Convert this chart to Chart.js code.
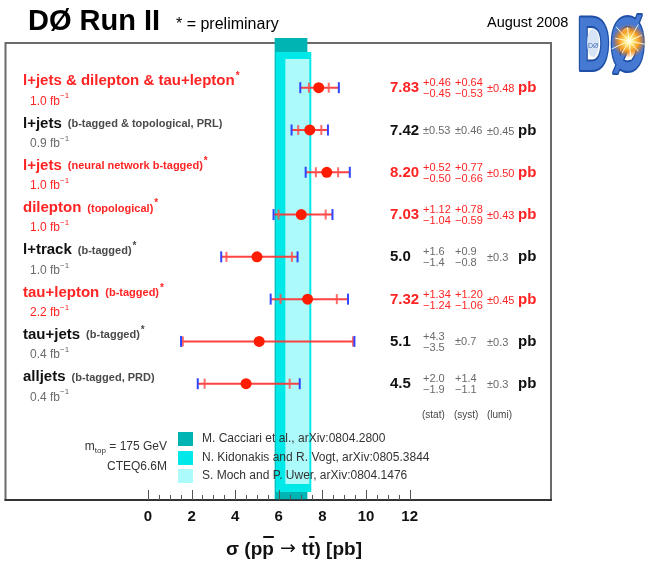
<!DOCTYPE html>
<html>
<head>
<meta charset="utf-8">
<script src="https://cdn.jsdelivr.net/npm/chart.js@4.4.1/dist/chart.umd.min.js"></script>
<style>
  html, body { margin: 0; padding: 0; background: #fff; }
  #wrap { width: 652px; height: 562px; }
</style>
</head>
<body>
<div id="wrap"><canvas id="xsec" width="652" height="562"></canvas></div>
<script>
// Top-pair cross section measurements, one row per channel
const rowTitles = ['l+jets & dilepton & tau+lepton', 'l+jets', 'l+jets', 'dilepton', 'l+track', 'tau+lepton', 'tau+jets', 'alljets'];
const rowNotes = ['', '(b-tagged & topological, PRL)', '(neural network b-tagged)', '(topological)', '(b-tagged)', '(b-tagged)', '(b-tagged)', '(b-tagged, PRD)'];
const rowPreliminary = [true, false, true, true, true, true, true, false];
const rowLumi = ['1.0', '0.9', '1.0', '1.0', '1.0', '2.2', '0.4', '0.4'];
const rowHighlight = [true, false, true, true, false, true, false, false];

const xsec = [7.83, 7.42, 8.20, 7.03, 5.0, 7.32, 5.1, 4.5];
const xsecDecimals = [2, 2, 2, 2, 1, 2, 1, 1];
const statUp = [0.46, 0.53, 0.52, 1.12, 1.6, 1.34, 4.3, 2.0];
const statDown = [0.45, 0.53, 0.50, 1.04, 1.4, 1.24, 3.5, 1.9];
const systUp = [0.64, 0.46, 0.77, 0.78, 0.9, 1.20, 0.7, 1.4];
const systDown = [0.53, 0.46, 0.66, 0.59, 0.8, 1.06, 0.7, 1.1];
const lumiErr = [0.48, 0.45, 0.50, 0.43, 0.3, 0.45, 0.3, 0.3];

// Theory predictions (m_top = 175 GeV, CTEQ6.6M)
const theoryNames = ['M. Cacciari et al., arXiv:0804.2800', 'N. Kidonakis and R. Vogt, arXiv:0805.3844', 'S. Moch and P. Uwer, arXiv:0804.1476'];
const theoryLow = [5.81, 5.86, 6.30];
const theoryHigh = [7.31, 7.49, 7.40];
const theoryColors = ['rgb(0,180,180)', 'rgb(0,232,232)', 'rgb(172,250,250)'];

const tickValues = [0, 2, 4, 6, 8, 10, 12];

const FONT = '"Liberation Sans", Arial, Helvetica, sans-serif';
const RED = 'rgb(255,36,36)';
const MINUS = '\u2212';

// total uncertainty: stat, syst and lumi added in quadrature
const totalUp = xsec.map((_, i) => Math.hypot(statUp[i], systUp[i], lumiErr[i]));
const totalDown = xsec.map((_, i) => Math.hypot(statDown[i], systDown[i], lumiErr[i]));

function rich(ctx, x, y, parts) {
  for (const p of parts) {
    ctx.font = p.font;
    ctx.fillStyle = p.color;
    ctx.fillText(p.text, x, y + (p.dy || 0));
    x += ctx.measureText(p.text).width + (p.gap || 0);
  }
  return x;
}

function textWidth(ctx, parts) {
  let w = 0;
  for (const p of parts) { ctx.font = p.font; w += ctx.measureText(p.text).width + (p.gap || 0); }
  return w;
}

function drawLogo(ctx) {
  ctx.save();
  ctx.translate(577, 70);
  ctx.scale(0.6, 1);
  ctx.font = `bold 76px ${FONT}`;
  ctx.textBaseline = 'alphabetic';
  ctx.textAlign = 'left';
  ctx.lineJoin = 'round';
  ctx.lineWidth = 4;
  ctx.strokeStyle = '#1f4fa6';
  ctx.strokeText('DØ', 0, 0);
  ctx.fillStyle = '#4679d2';
  ctx.fillText('DØ', 0, 0);
  ctx.restore();

  // inner highlight of the D
  ctx.save();
  ctx.fillStyle = 'rgba(210,225,245,0.9)';
  ctx.beginPath();
  ctx.ellipse(593, 43, 6, 14, 0, 0, Math.PI * 2);
  ctx.fill();
  ctx.font = `7px ${FONT}`;
  ctx.fillStyle = '#4a6fb5';
  ctx.fillText('DØ', 588, 46);
  ctx.restore();

  // collision burst in the Ø
  ctx.save();
  const cx = 629, cy = 41;
  const g = ctx.createRadialGradient(cx, cy, 0, cx, cy, 17);
  g.addColorStop(0, '#fffef0');
  g.addColorStop(0.25, '#ffe877');
  g.addColorStop(0.6, '#f39a22');
  g.addColorStop(1, 'rgba(230,110,20,0)');
  ctx.fillStyle = g;
  ctx.beginPath();
  ctx.arc(cx, cy, 17, 0, Math.PI * 2);
  ctx.fill();
  ctx.strokeStyle = 'rgba(255,255,230,0.9)';
  ctx.lineWidth = 1;
  for (let k = 0; k < 10; k++) {
    const a = k * Math.PI / 5 + 0.2;
    const r = k % 2 ? 14 : 19;
    ctx.beginPath();
    ctx.moveTo(cx, cy);
    ctx.lineTo(cx + Math.cos(a) * r, cy + Math.sin(a) * r);
    ctx.stroke();
  }
  ctx.restore();
}

const decorPlugin = {
  id: 'decor',
  beforeDatasetsDraw(chart) {
    const { ctx, chartArea: a, scales: { x, y } } = chart;
    ctx.save();
    // frame
    ctx.strokeStyle = '#6a6a6a';
    ctx.lineWidth = 2;
    ctx.strokeRect(a.left, a.top, a.right - a.left, a.bottom - a.top);

    // theory bands, each slightly shorter than the one beneath
    const insetTop = [-5, 9, 16];
    const insetBottom = [0, 8, 16];
    theoryLow.forEach((lo, k) => {
      const x0 = x.getPixelForValue(lo);
      const x1 = x.getPixelForValue(theoryHigh[k]);
      ctx.fillStyle = theoryColors[k];
      ctx.fillRect(x0, a.top + insetTop[k], x1 - x0, (a.bottom - insetBottom[k]) - (a.top + insetTop[k]));
    });

    // axis line and tick marks
    ctx.strokeStyle = '#222';
    ctx.lineWidth = 1.5;
    ctx.beginPath();
    ctx.moveTo(a.left - 1, a.bottom);
    ctx.lineTo(a.right + 1, a.bottom);
    ctx.stroke();
    ctx.strokeStyle = '#555';
    ctx.lineWidth = 1;
    for (let v = tickValues[0]; v <= tickValues[tickValues.length - 1] + 1e-9; v += 0.5) {
      const px = Math.round(x.getPixelForValue(v)) + 0.5;
      const major = tickValues.includes(v);
      ctx.beginPath();
      ctx.moveTo(px, a.bottom);
      ctx.lineTo(px, a.bottom - (major ? 10 : 5));
      ctx.stroke();
    }

    // error bars: red line over the total range, red stat caps, blue total caps
    xsec.forEach((v, i) => {
      const py = y.getPixelForValue(i + 1);
      const tLo = x.getPixelForValue(v - totalDown[i]);
      const tHi = x.getPixelForValue(v + totalUp[i]);
      const sLo = x.getPixelForValue(v - statDown[i]);
      const sHi = x.getPixelForValue(v + statUp[i]);
      ctx.lineWidth = 2;
      ctx.strokeStyle = 'rgba(255,50,50,0.92)';
      ctx.beginPath();
      ctx.moveTo(tLo, py); ctx.lineTo(tHi, py);
      ctx.stroke();
      ctx.strokeStyle = 'rgba(255,80,80,0.85)';
      [sLo, sHi].forEach(px => {
        ctx.beginPath(); ctx.moveTo(px, py - 5); ctx.lineTo(px, py + 5); ctx.stroke();
      });
      ctx.strokeStyle = '#3045ff';
      [tLo, tHi].forEach(px => {
        ctx.beginPath(); ctx.moveTo(px, py - 5.5); ctx.lineTo(px, py + 5.5); ctx.stroke();
      });
    });
    ctx.restore();
  },
  afterDraw(chart) {
    const { ctx, chartArea: a, scales: { x, y } } = chart;
    ctx.save();
    ctx.textBaseline = 'middle';
    ctx.textAlign = 'left';

    // header
    rich(ctx, 28, 22, [{ text: 'DØ Run II', font: `bold 29px ${FONT}`, color: '#000' }]);
    rich(ctx, 176, 25, [{ text: '* = preliminary', font: `16px ${FONT}`, color: '#000' }]);
    rich(ctx, 487, 23, [{ text: 'August 2008', font: `14.5px ${FONT}`, color: '#000' }]);
    drawLogo(ctx);
    ctx.textBaseline = 'middle';

    // channel labels and results
    xsec.forEach((v, i) => {
      const py = y.getPixelForValue(i + 1);
      const hi = rowHighlight[i];
      const main = hi ? RED : '#111';
      const note = hi ? RED : '#4a4a4a';
      const soft = hi ? RED : '#6a6a6a';

      let cx = rich(ctx, 23, py - 6.5, [{ text: rowTitles[i], font: `bold 15px ${FONT}`, color: main }]);
      if (rowNotes[i]) {
        cx = rich(ctx, cx + 6, py - 6, [{ text: rowNotes[i], font: `bold 11px ${FONT}`, color: note }]);
      }
      if (rowPreliminary[i]) {
        rich(ctx, cx + 1, py - 11, [{ text: '*', font: `bold 10px ${FONT}`, color: note }]);
      }
      rich(ctx, 30, py + 13.5, [
        { text: rowLumi[i] + ' fb', font: `12px ${FONT}`, color: soft },
        { text: MINUS + '1', font: `8px ${FONT}`, color: soft, dy: -5 }
      ]);

      const d = xsecDecimals[i];
      const vy = py + 0.5;
      rich(ctx, 390, vy, [{ text: v.toFixed(d), font: `bold 15px ${FONT}`, color: main }]);
      const errFont = `11px ${FONT}`;
      const cols = [423, 455];
      [[statUp[i], statDown[i]], [systUp[i], systDown[i]]].forEach(([up, dn], c) => {
        if (up === dn) {
          rich(ctx, cols[c], vy, [{ text: '±' + up.toFixed(d), font: errFont, color: soft }]);
        } else {
          rich(ctx, cols[c], vy - 5, [{ text: '+' + up.toFixed(d), font: errFont, color: soft }]);
          rich(ctx, cols[c], vy + 6, [{ text: MINUS + dn.toFixed(d), font: errFont, color: soft }]);
        }
      });
      rich(ctx, 487, vy + 1, [{ text: '±' + lumiErr[i].toFixed(d), font: errFont, color: soft }]);
      rich(ctx, 518, vy, [{ text: 'pb', font: `bold 15px ${FONT}`, color: main }]);
    });

    // uncertainty column headings
    const headFont = `10px ${FONT}`;
    rich(ctx, 422, 415, [{ text: '(stat)', font: headFont, color: '#444' }]);
    rich(ctx, 454, 415, [{ text: '(syst)', font: headFont, color: '#444' }]);
    rich(ctx, 487, 415, [{ text: '(lumi)', font: headFont, color: '#444' }]);

    // theory legend
    const legY = [439, 458, 476];
    theoryNames.forEach((name, k) => {
      ctx.fillStyle = theoryColors[k];
      ctx.fillRect(178, legY[k] - 7, 15, 14);
      rich(ctx, 202, legY[k], [{ text: name, font: `12px ${FONT}`, color: '#333' }]);
    });
    const mtop = [
      { text: 'm', font: `12px ${FONT}`, color: '#333' },
      { text: 'top', font: `8px ${FONT}`, color: '#333', dy: 4 },
      { text: ' = 175 GeV', font: `12px ${FONT}`, color: '#333' }
    ];
    rich(ctx, 167 - textWidth(ctx, mtop), 447, mtop);
    const cteq = [{ text: 'CTEQ6.6M', font: `12px ${FONT}`, color: '#333' }];
    rich(ctx, 167 - textWidth(ctx, cteq), 467, cteq);

    // axis title with overlined antiparticles
    const tf = `bold 19px ${FONT}`;
    const pieces = [
      { text: 'σ (p', bar: false, font: tf },
      { text: 'p', bar: true, font: tf },
      { text: ' \u2192 ', bar: false, font: `19px "DejaVu Sans", ${FONT}`, dy: -1 },
      { text: 't', bar: false, font: tf },
      { text: 't', bar: true, font: tf },
      { text: ') [pb]', bar: false, font: tf }
    ];
    ctx.textBaseline = 'alphabetic';
    let total = 0;
    pieces.forEach(p => { ctx.font = p.font; p.w = ctx.measureText(p.text).width; total += p.w; });
    let tx = 294 - total / 2;
    const base = 555;
    pieces.forEach(p => {
      ctx.font = p.font;
      ctx.fillStyle = '#111';
      ctx.fillText(p.text, tx, base + (p.dy || 0));
      if (p.bar) {
        ctx.fillRect(tx + 1, base - 19, p.w - 1, 2);
      }
      tx += p.w;
    });
    ctx.restore();
  }
};

new Chart(document.getElementById('xsec'), {
  type: 'scatter',
  data: {
    datasets: [{
      data: xsec.map((v, i) => ({ x: v, y: i + 1 })),
      backgroundColor: 'rgb(255,28,0)',
      borderWidth: 0,
      pointRadius: 5.5,
      pointHoverRadius: 5.5
    }]
  },
  options: {
    responsive: false,
    animation: false,
    events: [],
    layout: { padding: { left: 5, right: 101, top: 43, bottom: 0 } },
    plugins: { legend: { display: false }, tooltip: { enabled: false } },
    scales: {
      x: {
        type: 'linear',
        position: 'bottom',
        min: -6.53,
        max: 18.48,
        grid: { display: false, drawTicks: false },
        border: { display: false },
        afterBuildTicks: s => { s.ticks = tickValues.map(v => ({ value: v })); },
        afterFit: s => { s.height = 62; },
        ticks: {
          autoSkip: false,
          maxRotation: 0,
          padding: 8,
          color: '#111',
          font: { family: FONT, size: 15, weight: 'bold' }
        }
      },
      y: {
        type: 'linear',
        display: false,
        reverse: true,
        min: -0.057,
        max: 10.75
      }
    }
  },
  plugins: [decorPlugin]
});
</script>
</body>
</html>
